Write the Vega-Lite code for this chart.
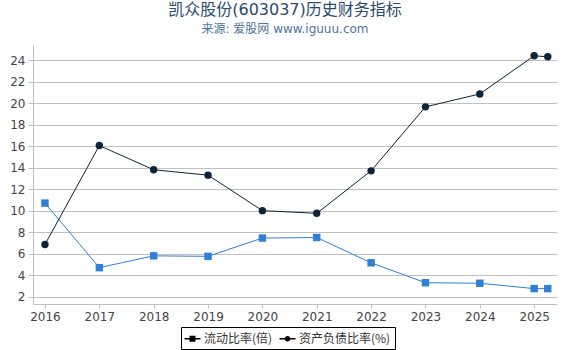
{
  "$schema": "https://vega.github.io/schema/vega-lite/v6.json",
  "autosize": "none",
  "width": 524,
  "height": 259,
  "padding": {"left": 33, "top": 45, "right": 13, "bottom": 46},
  "background": "white",
  "title": {
    "text": "凯众股份(603037)历史财务指标",
    "subtitle": "来源: 爱股网 www.iguuu.com",
    "anchor": "middle",
    "frame": "group",
    "dx": -10,
    "offset": 10,
    "font": "DejaVu Sans, Noto Sans CJK SC",
    "fontSize": 16,
    "fontWeight": "normal",
    "color": "#274b6d",
    "subtitleFont": "DejaVu Sans, Noto Sans CJK SC",
    "subtitleFontSize": 12,
    "subtitleColor": "#4d759e",
    "subtitlePadding": 6
  },
  "config": {
    "view": {"stroke": null},
    "font": "DejaVu Sans, Noto Sans CJK SC",
    "axis": {
      "labelFont": "DejaVu Sans",
      "labelFontSize": 12,
      "labelColor": "#444444",
      "domainColor": "#c0c0c0",
      "tickColor": "#c0c0c0",
      "gridColor": "#c0c0c0",
      "gridOpacity": 1,
      "title": null
    }
  },
  "data": {
    "values": [
      {"year": 2016, "series": "流动比率(倍)", "value": 10.7},
      {"year": 2017, "series": "流动比率(倍)", "value": 4.7},
      {"year": 2018, "series": "流动比率(倍)", "value": 5.8},
      {"year": 2019, "series": "流动比率(倍)", "value": 5.75},
      {"year": 2020, "series": "流动比率(倍)", "value": 7.45},
      {"year": 2021, "series": "流动比率(倍)", "value": 7.5},
      {"year": 2022, "series": "流动比率(倍)", "value": 5.15},
      {"year": 2023, "series": "流动比率(倍)", "value": 3.3},
      {"year": 2024, "series": "流动比率(倍)", "value": 3.25},
      {"year": 2025, "series": "流动比率(倍)", "value": 2.75},
      {"year": 2025.25, "series": "流动比率(倍)", "value": 2.75},
      {"year": 2016, "series": "资产负债比率(%)", "value": 6.85},
      {"year": 2017, "series": "资产负债比率(%)", "value": 16.05},
      {"year": 2018, "series": "资产负债比率(%)", "value": 13.8},
      {"year": 2019, "series": "资产负债比率(%)", "value": 13.3},
      {"year": 2020, "series": "资产负债比率(%)", "value": 10.0},
      {"year": 2021, "series": "资产负债比率(%)", "value": 9.75},
      {"year": 2022, "series": "资产负债比率(%)", "value": 13.7},
      {"year": 2023, "series": "资产负债比率(%)", "value": 19.65},
      {"year": 2024, "series": "资产负债比率(%)", "value": 20.85},
      {"year": 2025, "series": "资产负债比率(%)", "value": 24.4},
      {"year": 2025.25, "series": "资产负债比率(%)", "value": 24.3}
    ]
  },
  "encoding": {
    "x": {
      "field": "year",
      "type": "quantitative",
      "scale": {"domain": [2015.78, 2025.42], "nice": false, "zero": false},
      "axis": {
        "values": [2016, 2017, 2018, 2019, 2020, 2021, 2022, 2023, 2024, 2025],
        "format": "d",
        "grid": false,
        "tickSize": 4,
        "labelPadding": 3
      }
    },
    "y": {
      "field": "value",
      "type": "quantitative",
      "scale": {"domain": [1.32, 25.4], "nice": false, "zero": false},
      "axis": {
        "values": [2, 4, 6, 8, 10, 12, 14, 16, 18, 20, 22, 24],
        "grid": true,
        "tickSize": 5,
        "labelPadding": 3
      }
    },
    "color": {
      "field": "series",
      "type": "nominal",
      "scale": {"domain": ["流动比率(倍)", "资产负债比率(%)"], "range": ["#2f7ed8", "#0d233a"]},
      "legend": null
    }
  },
  "layer": [
    {
      "mark": {"type": "line", "strokeWidth": 1},
      "encoding": {"detail": {"field": "series"}}
    },
    {
      "mark": {"type": "point", "filled": true, "opacity": 1, "size": 55},
      "encoding": {
        "shape": {
          "field": "series",
          "type": "nominal",
          "scale": {"domain": ["流动比率(倍)", "资产负债比率(%)"], "range": ["square", "circle"]},
          "legend": null
        }
      }
    },
    {
      "mark": {"type": "point", "filled": true, "opacity": 0},
      "encoding": {
        "shape": {
          "field": "series",
          "type": "nominal",
          "scale": {"domain": ["流动比率(倍)", "资产负债比率(%)"], "range": [
            "M-1.13,-0.1H1.13V0.1H-1.13Z M-0.42,-0.42H0.42V0.42H-0.42Z",
            "M-1.13,-0.1H1.13V0.1H-1.13Z M-0.4,0A0.4,0.4 0 1,1 0.4,0A0.4,0.4 0 1,1 -0.4,0Z"
          ]},
          "legend": {
            "title": null,
            "orient": "none",
            "legendX": 148,
            "legendY": 282,
            "direction": "horizontal",
            "strokeColor": "black",
            "padding": 4,
            "symbolOpacity": 1,
            "symbolSize": 200,
            "symbolStrokeWidth": 0,
            "labelFont": "Noto Sans CJK SC",
            "labelFontSize": 12,
            "labelColor": "#333333",
            "columnPadding": 6,
            "labelOffset": 4
          }
        }
      }
    }
  ],
  "resolve": {"scale": {"shape": "independent"}}
}
